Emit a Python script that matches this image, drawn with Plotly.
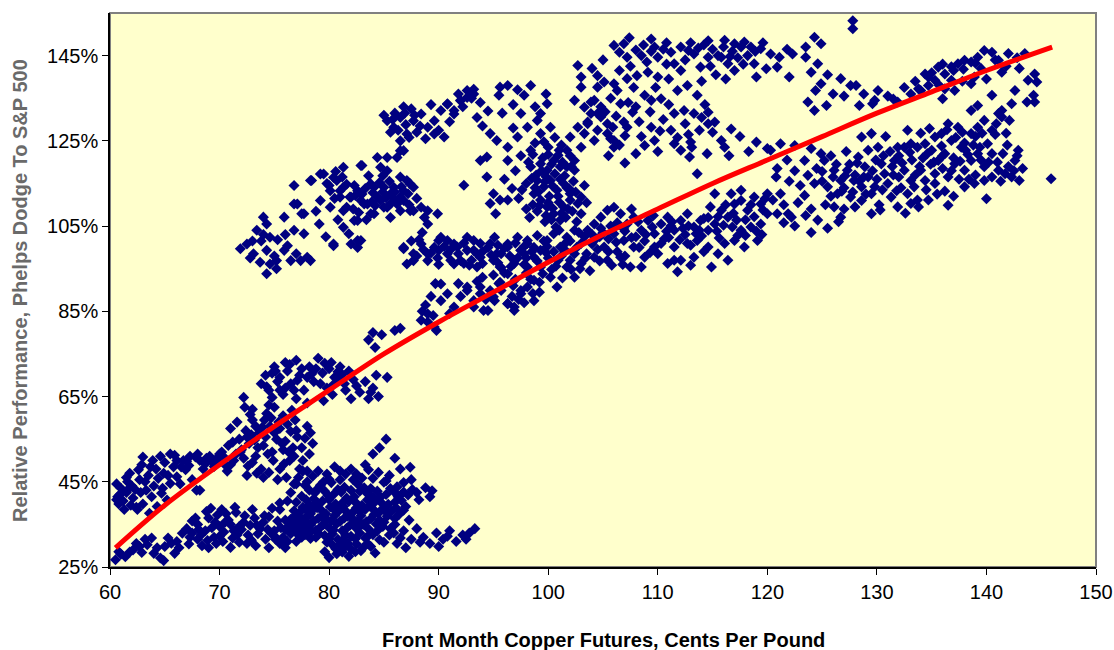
import plotly.graph_objects as go

# ---- Data: (copper cents/lb, relative performance %) ----
arc_low_left = [(60.5,26.7),(61.4,27.4),(62.1,29.0),(62.7,29.8),(63.4,30.2),(64.0,28.2),(64.6,27.1),(65.0,29.8),
    (65.6,30.6),(66.1,31.0),(66.6,32.9),(65.9,28.2),(64.9,26.5),(63.2,31.5),(62.4,30.5),(61.0,28.0),(63.8,31.8),
    (61.8,28.5),(62.9,28.4),(64.3,29.5),(65.3,31.8),(66.3,29.5),(60.8,28.6)]

band_upper_left = [(60.8,39.8),(61.2,40.5),(61.5,42.5),(62.1,41.2),(62.4,39.0),(61.8,47.0),(62.7,45.5),(63.0,50.8),
    (63.7,48.5),(64.0,44.0),(64.6,51.0),(64.9,47.0),(65.2,40.7),(65.5,44.6),(66.1,50.0),(66.1,46.2),(66.7,50.0),
    (67.3,51.0),(67.9,43.0),(68.2,50.0),(69.1,51.0),(69.5,48.6),(64.3,39.2),(63.6,37.6),(62.5,38.5),(60.6,44.5),
    (61.0,43.5),(63.3,43.0),(65.8,48.5),(64.7,42.3),(66.9,47.8),(68.7,49.2),(67.5,45.5),(70.0,51.5),(62.9,49.0),(61.6,45.0),
    (61.3,38.5),(62.0,44.0),(62.8,42.5),(63.5,46.5),(64.2,48.0),(65.0,49.5),(65.5,51.5),(66.5,48.5),(67.0,49.8),
    (68.0,51.5),(68.8,50.5),(69.8,49.8),(63.8,41.5),(61.5,46.0),(60.7,41.5),
    (60.9,42.0),(61.9,39.5),(62.3,43.2),(62.6,47.8),(63.2,45.0),(63.9,50.0),(64.4,45.8),(64.8,43.5),(65.3,46.5),
    (65.9,51.2),(66.4,44.5),(67.2,48.8),(67.8,50.8),(68.5,48.0),(69.3,49.8),(60.6,40.8),(61.8,43.6),(63.0,39.8)]

band_lower = [(67.0,34.0),(67.5,33.0),(68.0,31.5),(68.0,35.0),(68.7,33.5),(69.0,36.5),(69.5,32.0),(70.0,34.5),
    (70.3,31.0),(70.8,36.0),(71.3,33.5),(71.8,30.8),(72.2,35.5),(72.6,32.5),(73.2,36.5),(73.7,34.0),(74.2,31.5),
    (74.5,36.8),(75.0,33.5),(75.5,30.5),(76.0,36.0),(76.5,33.0),(77.0,31.0),(77.4,35.5),(77.9,33.0),(78.3,37.5),
    (67.2,30.4),(69.0,29.5),(72.5,30.5),(76.0,29.5),(68.4,30.0),(70.6,37.5),(71.5,37.8),(73.0,38.5),(74.8,38.8),
    (76.8,38.2),(78.6,39.5),(67.8,36.5),(69.8,37.2),(71.0,29.6),
    (67.5,35.8),(68.3,32.5),(69.3,34.2),(70.0,32.2),(70.5,35.5),(71.2,31.8),(71.8,34.5),(72.3,37.0),(72.8,34.8),
    (73.5,32.8),(74.0,35.5),(74.7,33.0),(75.3,35.8),(75.8,32.0),(76.3,34.5),(77.0,37.0),(77.5,32.0),(78.0,35.0),
    (68.8,38.0),(70.2,38.5),(69.7,30.5),(73.3,30.0),(74.5,29.5),
    (67.3,32.0),(68.1,33.8),(68.9,31.2),(69.6,35.5),(70.4,33.2),(71.0,35.0),(71.6,32.5),(72.0,33.8),(72.9,31.3),
    (73.4,34.8),(74.1,37.0),(74.4,33.8),(75.1,31.5),(75.6,34.2),(76.2,31.0),(76.7,35.3),(77.2,33.5),(77.8,36.5),
    (78.4,33.5),(69.2,38.8),(71.4,39.0)]

trend_lower = [(70.2,52.0),(70.8,53.5),(71.3,50.0),(71.8,55.0),(72.0,52.5),(72.4,57.0),(72.7,54.0),(73.0,59.5),
    (73.3,51.0),(73.6,56.5),(74.0,53.5),(74.3,61.0),(74.6,58.0),(74.9,50.0),(75.2,55.0),(75.5,48.0),(75.8,52.5),
    (76.1,46.0),(76.4,50.0),(76.7,53.0),(77.0,44.5),(77.3,48.0),(73.0,62.0),(72.3,62.5),(74.5,63.0),(75.8,60.5),
    (76.5,56.8),(77.8,55.2),(78.2,51.5),(69.8,50.6),(70.5,49.0),(72.6,48.7),(71.0,57.5),(73.8,48.0),(75.3,45.5),
    (74.0,46.0),(72.5,46.5),(70.7,47.5),(68.2,43.0),(71.6,59.0),(76.9,59.5),(77.6,47.5),(78.5,54.0),
    (71.5,51.5),(72.2,50.5),(72.9,56.0),(73.5,53.0),(74.2,55.5),(74.8,52.0),(75.5,57.5),(76.0,54.5),(76.8,51.0),
    (77.5,53.0),(73.3,58.0),(74.7,60.0),(75.0,62.5),(76.2,58.5),(77.0,57.0),(78.0,58.0),(75.9,49.2),(74.5,47.2),
    (73.0,49.5),(71.0,49.0),
    (70.5,50.5),(71.2,54.3),(71.9,52.0),(72.5,55.5),(73.2,54.8),(73.9,57.8),(74.4,51.5),(75.0,56.5),(75.7,54.0),
    (76.3,52.0),(77.1,55.5),(77.6,50.0),(78.3,56.5),(74.1,59.5),(72.8,60.8),(75.4,59.0),(76.6,61.8),(73.4,47.0)]

trend_mid = [(73.8,68.0),(74.2,70.0),(74.5,66.5),(75.0,72.0),(75.3,68.5),(75.8,65.5),(76.2,71.0),(76.5,68.0),
    (77.0,73.5),(77.3,70.0),(77.7,66.5),(78.2,72.0),(78.6,68.5),(79.0,74.0),(79.4,70.5),(79.8,67.0),(80.2,73.0),
    (80.5,69.5),(81.0,72.0),(81.4,68.0),(76.0,73.0),(74.8,64.8),(78.0,63.5),(80.8,69.0),(81.5,66.5),(82.2,69.0),
    (82.8,66.0),(83.3,68.5),(84.0,67.0),(84.5,65.0),(85.3,69.5),(82.0,64.5),(83.6,64.5),(84.3,70.0),(83.6,78.3),
    (84.2,76.5),(84.8,79.5),(86.0,80.5),(86.5,81.0),(84.0,80.0),(88.5,85.0),(89.0,82.5),(89.5,84.0),(88.8,86.5),
    (89.8,80.5),(72.2,64.8),(79.5,64.0),(80.3,65.5),(81.8,71.0),
    (74.8,70.5),(75.5,69.5),(76.0,67.0),(76.8,66.5),(77.5,71.5),(78.0,69.5),(78.8,71.5),(79.2,68.0),(80.0,71.5),
    (80.8,70.8),(75.5,66.5),(77.0,64.5),
    (74.3,67.3),(75.1,71.0),(76.4,72.5),(77.1,68.8),(78.4,70.3),(79.6,72.8),(80.4,67.8),(81.2,70.2),(82.5,67.5),(83.8,66.0)]

blob_40 = [(78.5,46.3),(80.0,45.6),(81.5,46.8),(83.0,45.9),(84.5,47.2),
    (77.8,44.2),(79.0,43.5),(80.2,44.8),(81.4,43.7),(82.6,44.5),(83.8,43.4),(85.0,44.9),(86.2,43.8),
    (77.5,41.6),(78.7,42.4),(79.9,41.8),(81.1,42.6),(82.3,41.5),(83.5,42.2),(84.7,41.4),(85.9,42.7),(87.2,41.9),(88.0,42.5),
    (77.0,40.2),(78.2,39.6),(79.4,40.5),(80.6,39.8),(81.8,40.4),(83.0,39.5),(84.2,40.3),(85.4,39.7),(86.6,40.6),
    (77.3,37.8),(78.5,38.4),(79.7,37.5),(80.9,38.2),(82.1,37.7),(83.3,38.5),(84.5,37.6),(85.7,38.1),
    (76.5,36.2),(77.8,35.6),(79.0,36.4),(80.2,35.8),(81.4,36.5),(82.6,35.7),(83.8,36.3),(85.0,35.5),
    (76.0,33.8),(77.5,34.4),(78.8,33.6),(80.0,34.2),(81.2,33.5),(82.4,34.3),(83.6,33.9),(84.9,34.5),
    (75.0,32.3),(78.3,31.7),(79.6,32.4),(80.8,31.5),(82.0,32.2),(83.3,31.8),
    (80.3,30.2),(81.4,29.6),(82.5,30.4),(80.7,28.1),(81.8,27.5),(82.4,28.6),(84.2,28.3),
    (84.0,51.5),(84.6,53.0),(85.2,55.0),(83.3,49.0),(86.5,48.0),(87.5,45.5),(88.8,43.6),(89.2,41.5),(86.0,50.5),
    (87.4,48.4),(89.4,42.9),(79.0,47.5),(80.5,48.5),(82.0,48.0),(77.2,46.0),(76.5,42.5),(75.5,40.0),
    (78.0,45.0),(79.5,45.0),(81.0,45.5),(82.5,46.8),(84.0,45.8),(85.5,46.5),(78.2,43.0),(79.6,42.8),(80.8,43.2),
    (82.0,43.0),(83.2,43.6),(84.4,42.8),(85.6,43.4),(86.8,42.6),(77.6,39.0),(78.9,38.9),(80.1,39.1),(81.3,39.2),
    (82.5,38.9),(83.7,39.3),(84.9,38.7),(86.1,38.9),(76.8,36.8),(78.1,37.0),(79.3,36.8),(80.5,37.1),(81.7,36.9),
    (82.9,37.0),(84.1,37.3),(85.3,36.9),(77.0,35.0),(78.3,34.9),(79.5,35.0),(80.7,35.2),(81.9,34.8),(83.1,35.0),
    (84.3,35.1),(76.5,32.8),(77.8,32.6),(79.0,33.0),(80.3,32.8),(81.5,32.5),(82.8,33.0),(84.0,32.6),(79.8,30.8),
    (80.9,30.0),(82.0,29.2),(83.1,29.5),(80.0,27.2),(81.2,28.5),(83.5,30.5),(85.0,30.8),(75.5,38.5),(76.2,40.5),(76.8,44.5),
    (78.0,47.5),(79.8,46.8),(81.0,47.5),(82.2,45.5),(83.6,47.8),(85.2,45.2),(86.8,44.8),(78.6,41.0),(79.2,44.2),
    (80.4,42.0),(81.6,41.2),(82.8,42.8),(84.0,41.5),(85.2,42.0),(86.3,41.5),(87.6,43.2),(77.9,40.8),(79.0,39.8),
    (80.0,40.8),(81.2,40.0),(82.4,40.2),(83.5,40.8),(84.8,40.0),(86.0,40.2),(87.0,39.2),(78.1,38.0),(79.3,38.3),
    (80.4,38.6),(81.6,37.9),(82.8,38.1),(84.0,38.6),(85.2,37.9),(86.4,37.4),(77.4,36.5),(78.6,35.8),(79.8,36.2),
    (81.0,35.7),(82.2,36.2),(83.4,35.6),(84.6,36.0),(86.0,36.4),(76.8,34.3),(78.0,33.7),(79.2,34.3),(80.4,33.7),
    (81.6,34.1),(82.8,34.6),(84.4,33.5),(85.6,34.0),(77.2,32.5),(78.8,32.0),(80.0,31.6),(81.2,31.2),(82.4,31.6),
    (83.6,32.4),(84.6,31.4),(80.6,29.3),(81.7,30.6),(82.9,28.8),(79.6,28.6),(83.8,29.8),(85.9,33.0),(87.3,36.0),
    (86.8,38.3),(88.2,40.8)]

tail_low = [(85.5,32.5),(86.2,30.5),(86.8,33.5),(87.5,31.5),(88.0,34.0),(88.6,32.0),(89.2,30.5),(89.8,33.0),
    (90.4,31.5),(91.0,33.5),(91.6,31.0),(92.2,32.5),(92.8,33.0),(93.3,34.0),(87.0,29.5),(90.0,29.8),(86.0,35.0),
    (86.5,31.8),(88.3,30.8),(90.8,32.2),(92.5,31.5)]

group_100 = [(71.9,99.7),(72.5,100.8),(73.1,98.5),(73.4,104.0),(74.0,107.1),(74.3,105.5),(74.6,102.4),(74.3,99.3),
    (74.6,96.1),(75.2,96.9),(74.3,93.8),(75.2,95.0),(75.9,107.1),(75.9,99.3),(76.5,96.9),(76.8,104.0),(77.1,110.2),
    (77.5,107.9),(77.7,103.2),(77.4,96.9),(78.0,97.7),(78.3,96.9),(76.2,100.4),(72.8,97.5),(73.8,101.5),(75.3,101.8),
    (73.0,101.5),(73.7,96.5),(75.0,98.0),(76.0,103.0),(74.0,103.0),(77.0,98.5)]

group_112 = [(76.8,114.5),(78.4,115.7),(79.5,117.2),(79.2,111.0),(80.1,113.3),(80.7,115.7),(81.3,114.1),(82.0,111.8),
    (82.6,113.3),(83.2,110.2),(83.8,114.9),(84.4,111.8),(85.0,109.4),(85.6,112.5),(86.2,110.2),(86.8,113.3),
    (87.4,114.9),(86.5,116.5),(85.3,118.0),(84.4,121.1),(86.2,121.1),(86.8,122.7),(82.9,119.2),(81.3,104.7),
    (82.6,101.6),(80.4,100.4),(82.0,100.8),(79.1,105.5),(77.7,107.9),(76.8,110.2),(80.1,109.4),(81.3,108.6),
    (82.6,106.3),(83.8,107.9),(85.0,114.1),(87.7,108.6),(89.0,108.6),(89.0,105.5),(86.8,99.7),(87.7,96.9),
    (89.0,98.5),(90.0,99.3),(90.0,101.6),(89.7,91.5),(78.3,115.7),(79.2,117.2),(80.4,116.4),(81.0,113.3),
    (81.9,111.8),(82.9,111.0),(83.5,110.2),(84.7,111.0),(85.3,109.4),(86.5,111.8),(87.1,115.7),(87.7,114.1),
    (85.9,114.1),(84.1,114.1),(81.6,109.4),(82.3,106.3),(82.9,101.6),(80.4,100.8),(82.6,100.0),(85.3,121.1),
    (86.5,122.7),(84.7,118.8),(81.3,118.8),(83.0,119.2),(89.9,107.9),(87.4,108.6),(88.4,109.4),(84.1,107.9),(86.5,108.6),
    (79.8,115.0),(80.5,111.5),(81.2,116.5),(82.3,114.5),(83.0,112.5),(83.6,116.8),(84.2,109.8),(84.9,113.0),
    (85.5,115.5),(86.0,113.0),(86.8,111.0),(87.3,110.0),(88.0,111.5),(88.7,107.0),(82.2,109.0),(83.4,106.5),
    (85.6,107.0),(80.8,106.5),(79.7,102.5),(81.8,103.2),(78.8,108.5),(88.5,103.5),
    (80.0,114.5),(81.0,111.8),(81.6,114.8),(82.4,112.2),(83.3,113.8),(84.0,112.8),(84.6,115.2),(85.2,111.6),
    (86.0,111.2),(86.6,114.2),(87.2,112.6),(83.9,110.7),(82.7,108.2),(85.6,110.2),(80.6,117.8),(84.9,116.8)]

group_130 = [(85.3,129.7),(85.9,128.2),(86.5,130.5),(87.1,126.6),(87.7,129.7),(88.4,131.3),(89.0,128.2),(89.6,126.6),
    (90.2,132.1),(90.8,133.6),(91.4,131.3),(92.0,134.4),(92.6,136.8),(93.2,137.1),(92.6,135.2),(89.6,129.7),
    (86.5,125.0),(93.5,130.5),(86.0,131.5),(87.5,132.5),(88.0,127.0),(86.8,133.0),(85.6,127.0),(88.8,125.5),
    (90.0,127.5),(91.0,129.5),(89.3,133.5),(90.8,133.7),(91.4,132.1),(92.0,134.5),(93.2,136.0),(90.5,125.9),
    (85.8,130.0),(86.3,127.5),(87.0,128.8),(87.8,131.0),(88.3,128.5),(85.0,131.0),(86.9,131.5),(87.3,125.8),
    (91.8,136.0),(92.2,133.0),(93.0,135.0)]

band_98 = [(86.8,100.0),(87.7,98.5),(88.4,100.8),(89.0,96.9),(89.6,100.0),(90.2,102.4),(90.8,98.5),(91.4,100.8),
    (92.0,96.9),(92.6,99.3),(93.2,101.6),(93.8,97.7),(94.5,100.0),(95.1,102.4),(95.7,98.5),(96.3,100.8),(96.9,96.9),
    (97.5,99.3),(98.1,101.6),(98.7,100.0),(87.1,96.1),(91.4,96.1),(95.7,95.3),(97.2,102.4),(88.0,98.0),(89.3,98.7),
    (90.5,100.2),(91.8,98.5),(93.0,97.0),(94.0,99.0),(95.0,97.0),(96.5,98.0),(98.0,97.5),(87.5,101.5),
    (88.4,82.9),(89.0,84.4),(90.2,91.4),(90.8,89.1),(91.4,86.0),(92.6,90.7),(93.2,87.5),(93.8,89.1),(94.5,85.2),
    (95.1,87.5),(95.7,89.9),(96.3,86.8),(96.9,85.2),(97.5,89.1),(98.1,90.7),(98.7,87.5),(90.2,87.5),(89.6,81.3),
    (88.6,99.5),(89.9,97.5),(91.1,99.5),(92.3,101.0),(93.5,98.5),(94.8,98.2),(96.0,99.8),(97.0,101.0),(97.8,98.5),
    (88.2,101.8),(90.0,96.0),(92.8,95.8),(95.4,100.5),(91.0,84.5),(92.0,88.5),(93.5,92.0),(94.3,87.8),(95.5,91.5),
    (96.7,88.5),(97.8,87.0),(98.4,92.5),(99.2,89.5),(89.3,88.5),(91.8,91.5),(94.0,93.0)]

band_trend = [(90.8,101.6),(91.7,100.1),(92.6,102.4),(93.2,99.3),(93.8,100.9),(91.1,97.0),(92.3,96.2),(93.5,95.4),
    (94.7,100.9),(95.3,98.5),(96.3,100.1),(95.6,95.4),(96.9,96.2),(96.3,93.8),(97.5,99.3),(98.1,100.9),(98.7,97.7),
    (99.3,99.3),(99.9,101.6),(100.5,103.2),(101.1,100.1),(101.7,102.4),(102.4,98.5),(103.0,100.9),(99.3,95.4),
    (100.2,93.0),(100.8,90.7),(98.1,95.4),(98.7,92.3),(97.5,89.9),(96.3,86.8),(95.0,88.4),(94.1,85.2),(93.2,86.0),
    (92.6,89.9),(93.8,90.7),(94.7,89.9),(96.9,86.0),(103.6,104.0),(104.2,105.5),(104.8,107.1),(105.4,108.7),
    (106.0,109.4),(106.6,107.9),(107.2,105.5),(107.8,107.1),(108.5,104.0),(109.1,106.3),(109.7,103.2),(104.2,101.6),
    (105.1,100.1),(106.0,103.2),(106.9,101.6),(107.8,100.1),(108.8,97.7),(109.7,100.1),(105.4,97.0),(106.6,97.7),
    (107.5,95.4),(103.0,96.2),(101.7,95.4),(102.4,93.0),(104.2,97.7),(108.5,95.4),(110.3,105.5),(110.9,107.1),
    (111.5,104.0),(112.1,106.3),(112.7,107.9),(113.3,104.8),(113.9,106.3),(114.6,104.0),(115.2,105.5),(115.8,108.7),
    (116.4,107.1),(117.0,110.2),(117.6,111.0),(118.2,108.7),(118.8,111.8),(119.4,110.2),(120.0,107.9),(119.4,105.5),
    (118.5,104.8),(117.6,104.0),(117.0,101.6),(116.1,100.9),(115.5,98.5),(114.6,100.1),(113.6,101.6),(112.7,100.9),
    (112.1,97.0),(111.5,97.0),(113.3,97.7),(114.9,95.4),(116.4,97.0),(117.9,100.1),(119.1,101.6),(116.7,112.6),
    (117.6,113.4),(115.2,112.6),(120.0,112.6),(111.5,100.1),(110.3,100.9),(110.9,96.2),(105.7,105.0),(106.3,99.0),
    (107.0,98.0),(108.0,102.5),(105.0,103.5),(104.5,99.5),(103.3,102.5),(102.0,97.0),(101.2,98.0),(100.0,97.5),
    (99.6,101.5),(98.5,99.0),(97.2,97.5),(100.7,95.6),(103.8,94.5),(109.3,98.8),(111.0,102.3),(112.5,103.0),
    (114.0,102.7),(115.6,102.2),(118.0,106.5),(119.6,108.8),(116.8,104.8),(114.2,99.0),(113.0,95.8),(111.8,94.3),
    (100.5,99.0),(101.5,100.8),(102.8,103.5),(103.5,98.5),(104.0,103.0),(104.8,104.5),(105.5,102.0),(106.3,105.8),
    (107.0,103.8),(107.6,109.0),(108.2,106.0),(108.8,101.5),(109.5,104.8),(110.0,98.5),(110.8,103.8),(111.3,106.0),
    (112.0,101.8),(112.8,105.0),(113.5,103.2),(114.2,106.8),(114.8,109.5),(115.5,107.2),(116.2,110.0),(116.9,108.0),
    (117.3,102.8),(118.5,110.0),(119.0,103.8),(119.8,111.5),(102.0,101.5),(101.0,104.0),(99.0,102.8),(99.8,98.8),
    (97.8,96.0),(96.0,94.0),(95.0,93.5),(97.0,92.5),(99.5,93.8),(102.9,95.0),(105.8,95.8),(106.8,96.0),(104.7,96.8),
    (94.0,96.2),(95.4,96.4),(96.6,95.5),(97.8,100.2),(99.0,96.8),(99.9,100.2),(100.9,97.0),(101.6,99.2),(102.6,100.0),
    (103.4,97.5),(104.0,100.8),(104.7,102.5),(105.5,99.0),(106.2,101.2),(106.9,104.3),(107.6,102.3),(108.3,100.0),
    (108.9,103.0),(109.6,107.5),(110.6,102.0),(111.2,105.0),(112.3,104.5),(113.0,100.5),(113.8,104.0),(114.6,107.0),
    (115.4,103.8),(116.0,105.2),(117.2,106.4),(118.0,102.8),(118.8,107.2),(119.5,103.0),(95.6,91.8),(96.8,91.0),
    (98.0,94.0),(99.2,91.8),(100.3,94.8),(101.3,92.8),(102.1,94.8),(97.3,87.8),(98.6,89.2)]

column_100 = [(94.7,126.7),(95.3,125.1),(96.3,123.5),(97.2,125.9),(98.1,128.2),(99.0,129.8),(98.4,122.8),(94.4,121.2),
    (93.8,120.4),(96.3,120.4),(95.6,137.6),(96.3,138.0),(97.8,135.7),(98.4,138.0),(95.5,135.7),(97.5,131.4),
    (99.3,131.4),(99.9,133.7),(100.2,128.2),(99.3,126.7),(98.4,118.9),(99.3,119.6),(99.9,118.1),(100.5,120.4),
    (101.1,118.9),(99.0,115.7),(99.6,114.2),(100.2,115.7),(100.8,113.4),(101.4,115.0),(102.0,112.6),(99.3,111.1),
    (99.9,109.5),(100.5,107.9),(101.4,109.5),(102.0,111.1),(102.7,110.3),(98.7,112.6),(101.1,106.4),(103.0,107.9),
    (102.4,104.0),(101.7,118.9),(102.4,118.1),(103.0,111.8),(94.4,116.5),(95.0,112.6),(95.6,111.1),(94.7,110.3),
    (96.3,111.1),(92.3,114.6),(95.2,107.9),(101.7,122.8),(102.4,120.4),(103.0,123.5),(102.0,125.9),(102.7,128.2),
    (103.3,132.9),(103.9,131.4),(104.8,130.6),(105.4,126.7),(106.0,125.1),(104.5,127.5),(103.6,129.0),
    (98.9,117.0),(99.8,116.6),(100.6,117.3),(101.5,116.8),(99.5,121.0),(100.9,121.6),(98.2,120.0),(100.1,112.0),
    (101.0,110.6),(101.9,113.8),(99.0,108.5),(100.7,104.8),(98.6,110.0),(102.3,115.5),(97.6,113.5),(97.0,118.0),
    (96.0,116.0),(101.6,107.0),(99.7,106.0),
    (98.0,115.0),(98.8,114.0),(99.4,118.0),(100.3,119.5),(101.3,120.0),(102.1,119.0),(100.0,110.5),(100.9,112.0),
    (101.8,109.0),(99.2,109.8),(98.3,107.0),(100.3,106.5),(102.6,106.0),(101.2,124.0),(100.0,123.5),(98.8,124.5),
    (97.5,121.5),(96.8,128.0),(95.8,131.5),(96.8,133.5),(97.2,137.0),(98.8,133.0),(99.8,136.0),(94.5,132.0),
    (94.0,128.5),(93.8,134.0),
    (98.5,116.2),(99.1,113.0),(99.7,115.4),(100.4,114.4),(101.1,116.0),(101.7,114.0),(102.5,113.0),(100.0,121.8),
    (101.0,122.8),(102.0,121.5),(99.6,124.8),(100.6,125.8),(98.6,121.8),(99.8,107.5),(101.2,108.0),(102.2,108.5),
    (100.4,109.2),(103.5,110.5),(103.3,114.5),(97.3,111.5),(96.7,113.8),(98.0,109.0)]

group_top = [(106.0,147.4),(106.9,147.8),(109.4,148.9),(109.7,147.0),(108.5,145.0),(107.2,144.6),(112.1,147.0),
    (111.2,145.8),(110.0,144.6),(111.5,143.1),(113.3,145.4),(114.6,144.6),(116.1,148.6),(117.0,147.8),(117.6,147.0),
    (118.5,147.0),(119.4,146.6),(119.9,141.9),(118.8,143.1),(117.0,141.5),(116.4,143.1),(115.8,144.6),(113.9,142.3),
    (112.1,141.5),(111.8,136.8),(112.7,138.0),(113.6,135.7),(110.0,140.0),(109.1,141.1),(108.1,140.3),(107.2,139.6),
    (106.0,138.4),(106.3,136.8),(105.1,138.8),(104.5,140.3),(102.7,142.7),(103.0,140.0),(103.0,137.6),(102.4,134.5),
    (103.9,134.1),(104.5,137.6),(106.6,133.7),(108.8,135.7),(109.4,134.5),(110.3,134.9),(107.7,131.7),(106.9,129.4),
    (105.4,129.0),(104.5,131.4),(103.6,129.4),(103.3,126.7),(104.2,125.1),(105.7,125.5),(106.0,123.5),(107.2,128.2),
    (108.8,123.9),(109.7,125.1),(109.4,128.2),(111.2,127.5),(111.5,124.3),(112.1,122.8),(113.0,124.7),(111.5,131.4),
    (112.4,132.1),(113.3,131.4),(114.6,131.7),(115.2,129.4),(115.8,125.1),(116.1,123.5),(114.6,129.0),(112.9,121.2),
    (113.6,117.3),(119.0,124.7),(120.0,123.2),(115.0,146.5),(115.5,145.0),(116.0,147.0),(116.8,146.0),(117.3,144.5),
    (114.2,147.5),(113.7,146.8),(117.8,143.0),(115.3,140.5),(116.2,139.5),(114.0,139.0),(108.0,146.3),(109.0,143.5),
    (110.5,146.5),(111.0,139.5),(109.8,137.5),(107.5,142.5),(105.5,121.5),(107.0,119.8),(106.5,124.0),(108.0,122.0),
    (104.0,142.0),(105.0,144.0),(106.5,141.5),(107.8,137.5),(105.7,135.0),(107.3,134.0),(104.8,133.0),(106.2,130.8),
    (108.3,129.5),(110.5,130.0),(111.0,133.5),(112.5,129.0),(113.8,127.5),(114.3,133.5),(108.5,126.0),(110.0,122.5),
    (112.8,126.5),(114.5,122.0),(116.5,121.5),(117.5,126.0),(118.3,122.5),(110.8,143.0),(112.5,144.0),(113.0,148.0),
    (114.8,142.5),(118.2,145.0),(119.0,140.0),(119.6,148.0),
    (104.2,134.5),(105.2,131.8),(105.9,128.2),(107.0,126.2),(108.0,133.0),(109.3,131.8),(110.2,127.3),(111.8,125.8),
    (113.1,123.5),(114.0,130.5),(115.0,127.0),(116.7,127.8),(106.5,145.8),(108.7,147.5),(110.8,148.0),(112.8,146.2),
    (114.6,148.5),(116.6,144.8),(117.9,148.2),(118.9,146.0),(107.4,149.2),(109.4,146.0)]

group_right_upper = [(127.8,153.2),(127.8,151.3),(124.3,149.3),(124.9,147.8),(123.5,147.0),(123.5,144.6),(122.3,145.4),
    (121.1,144.6),(120.9,142.3),(124.0,141.1),(124.6,143.1),(126.7,139.6),(127.6,138.0),(128.1,138.0),(124.9,138.4),
    (124.4,136.8),(123.7,134.1),(124.3,132.1),(125.4,133.3),(128.4,133.3),(130.1,136.8),(129.8,134.5),(129.6,133.7),
    (120.3,145.4),(134.4,140.7),(135.3,139.2),(135.6,142.3),(136.2,140.7),(136.8,139.2),(137.4,143.1),(138.0,143.9),
    (138.6,143.5),(139.2,144.6),(139.8,146.2),(140.5,145.8),(141.1,143.9),(141.4,141.1),(136.2,137.2),(137.1,136.8),
    (138.6,138.4),(138.9,140.0),(136.0,134.9),(133.1,136.0),(131.9,134.1),(134.7,138.0),(134.0,136.8),(140.5,135.7),
    (138.6,132.1),(139.2,133.3),(141.4,132.1),(142.3,133.7),(141.4,130.6),(142.1,129.8),(142.6,136.8),(143.8,139.2),
    (144.4,140.7),(144.6,138.8),(144.3,135.7),(143.7,134.1),(144.4,134.1),(141.1,131.4),
    (131.0,135.5),(132.5,137.5),(133.5,139.0),(135.0,141.0),(136.0,143.0),(137.0,141.5),(137.8,139.0),(139.5,142.0),
    (140.0,139.5),(141.8,142.5),(142.8,144.5),(143.5,145.5),(126.0,136.0),(127.0,135.5),(128.8,136.0),(125.5,140.5),
    (122.0,140.0),(121.8,146.5),
    (131.5,134.8),(133.8,137.2),(135.7,138.0),(137.9,141.8),(139.0,143.2),(140.8,144.0),(142.0,145.5),(143.0,142.0),
    (136.8,142.4),(134.7,140.0)]

group_right_lower = [(120.3,122.8),(121.2,124.3),(122.5,123.9),(124.0,123.2),(124.9,122.0),(123.4,120.4),(123.7,116.9),
    (120.8,116.5),(121.2,112.6),(120.5,111.1),(120.9,107.9),(121.9,107.9),(122.2,107.1),(123.4,112.2),(124.6,106.4),
    (124.3,115.0),(125.5,114.2),(125.2,120.4),(126.1,118.1),(126.7,115.7),(126.4,112.6),(126.1,109.5),(127.6,111.8),
    (126.7,107.1),(127.3,118.1),(127.9,115.7),(128.3,121.2),(128.9,118.9),(128.6,114.2),(129.2,116.5),(129.5,112.6),
    (129.8,114.2),(129.5,107.9),(129.2,122.8),(130.1,123.5),(128.6,125.9),(129.5,126.7),(130.4,119.6),(130.7,117.3),
    (131.0,115.0),(131.3,111.8),(131.9,109.5),(131.6,120.4),(131.9,123.5),(132.5,123.5),(133.1,124.3),(133.7,123.5),
    (134.4,124.3),(135.0,122.8),(132.5,118.1),(133.1,115.7),(132.8,112.6),(133.4,114.2),(134.0,118.1),(134.4,115.7),
    (134.7,111.1),(133.7,111.1),(133.1,110.3),(135.3,117.3),(135.6,120.4),(135.3,125.9),(135.9,126.7),(136.5,129.0),
    (136.8,125.1),(137.4,128.2),(137.7,123.5),(136.2,122.0),(136.5,116.5),(137.1,119.6),(138.0,118.1),(138.6,120.4),
    (139.2,122.0),(138.6,126.7),(139.2,128.2),(139.8,129.8),(140.5,127.5),(140.1,124.3),(139.8,118.9),(138.9,115.0),
    (139.8,115.7),(141.1,118.1),(141.7,117.3),(142.3,116.5),(142.9,122.8),(142.6,120.4),(143.0,115.7),(140.5,122.0),
    (138.0,114.2),(136.5,109.9),(140.0,111.4),(145.9,116.1),(132.0,121.5),(133.0,122.3),(134.2,121.0),(131.2,122.5),
    (126.0,116.5),(127.0,114.0),(128.0,117.0),(129.0,112.5),(127.5,119.5),(125.8,112.0),(138.3,121.8),(139.0,117.0),
    (137.5,116.0),(138.0,124.5),(139.5,120.5),(130.0,116.0),(132.0,116.5),(134.9,119.5),(136.0,118.5),(122.5,118.0),
    (121.8,120.5),(122.8,110.5),(124.0,109.0),(125.0,117.8),(141.0,120.0),(142.0,119.0),
    (126.8,113.2),(127.8,113.0),(128.4,115.5),(129.6,118.0),(130.5,113.5),(131.5,117.0),(132.2,114.0),(133.5,117.0),
    (134.5,113.5),(135.3,115.0),(136.2,113.2),(137.0,121.0),(137.8,127.0),(138.4,116.0),(139.4,123.5),(140.5,116.5),
    (141.5,122.0),(142.5,118.0),(123.0,114.5),(124.5,118.5),(125.8,121.5),(127.2,122.5),(130.8,126.0),(132.8,127.5),
    (134.0,126.8),(135.9,123.8),(137.2,125.8),(139.0,126.0),(140.8,126.5),(141.9,124.0),(143.3,118.5),(121.5,110.0),
    (120.9,118.5),(122.0,115.5),(128.0,109.5),(130.2,110.0),(132.6,108.0),(122.5,105.0),(124.0,103.5),(125.5,104.5),
    (126.5,106.0),
    (125.0,115.5),(126.3,119.5),(127.1,116.8),(128.2,119.8),(128.8,116.5),(129.9,120.5),(130.6,121.5),(131.4,119.0),
    (132.3,119.8),(133.2,120.5),(133.9,119.0),(134.6,122.0),(135.2,120.0),(136.0,121.5),(136.8,118.0),(137.6,120.2),
    (138.1,122.8),(138.8,124.0),(139.6,126.8),(140.2,120.0),(141.3,115.5),(137.0,112.0),(135.5,112.5),(131.8,113.3),
    (133.8,109.5),(127.0,109.0),(125.3,110.0),(128.6,111.0),(130.3,108.8),(123.5,107.5),(121.5,105.8),(142.8,121.5),
    (141.8,126.8),(140.9,129.0),(136.4,127.6),(134.8,127.9)]

# Red fitted trend line, read at intervals along the curve
trend_x = [60.5, 65, 70, 75, 80, 85, 90, 95, 100, 105, 110, 115, 120, 125, 130, 135, 140, 146]
trend_y = [29.5, 39.5, 49.0, 58.0, 66.5, 75.0, 82.5, 89.5, 96.5, 103.0, 109.0, 115.0, 120.5, 126.0, 131.5, 136.5, 141.5, 147.0]

y_ticks = [25, 45, 65, 85, 105, 125, 145]
x_ticks = [60, 70, 80, 90, 100, 110, 120, 130, 140, 150]

clusters = [arc_low_left, band_upper_left, band_lower, trend_lower, trend_mid, blob_40, tail_low,
            group_100, group_112, group_130, band_98, band_trend, column_100, group_top,
            group_right_upper, group_right_lower]
pts = [p for c in clusters for p in c]
px = [p[0] for p in pts]
py = [p[1] for p in pts]

FONT = "Liberation Sans, Arial, sans-serif"

fig = go.Figure()
fig.add_trace(go.Scatter(x=px, y=py, mode="markers",
                         marker=dict(symbol="diamond", size=8.5, color="#000080", line=dict(width=0)),
                         showlegend=False, hoverinfo="x+y"))
fig.add_trace(go.Scatter(x=trend_x, y=trend_y, mode="lines",
                         line=dict(color="#FF0000", width=5, shape="spline"),
                         showlegend=False, hoverinfo="skip"))

fig.update_layout(
    width=1114, height=650,
    margin=dict(l=110, r=18, t=13, b=83),
    paper_bgcolor="white", plot_bgcolor="#FFFFCC",
    font=dict(family=FONT, size=20, color="black"),
    xaxis=dict(range=[60, 150], tickvals=x_ticks, ticks="outside", ticklen=6, tickcolor="black",
               showline=True, linecolor="black", linewidth=1.5, showgrid=False, zeroline=False,
               tickfont=dict(size=20), automargin=False),
    yaxis=dict(range=[25, 155], tickvals=y_ticks, ticktext=[f"{v}%" for v in y_ticks],
               ticks="outside", ticklen=6, tickcolor="black",
               showline=True, linecolor="black", linewidth=1.5, showgrid=False, zeroline=False,
               tickfont=dict(size=20), automargin=False),
    shapes=[dict(type="rect", xref="paper", yref="paper", x0=0, x1=1, y0=0, y1=1,
                 line=dict(color="#808080", width=2), layer="below")],
    annotations=[
        dict(text="<b>Front Month Copper Futures, Cents Per Pound</b>", xref="paper", yref="paper",
             x=0.5, y=-0.132, xanchor="center", yanchor="middle", showarrow=False,
             font=dict(size=20, color="black", family=FONT)),
        dict(text="<b>Relative Performance, Phelps Dodge To S&P 500</b>", xref="paper", yref="paper",
             x=-0.0913, y=0.5, xanchor="center", yanchor="middle", showarrow=False, textangle=-90,
             font=dict(size=20, color="#6a6a6a", family=FONT)),
    ],
)

fig.write_html("out.html", config={"displayModeBar": False},
               post_script="document.body.style.margin='0';document.body.style.overflow='hidden';")
